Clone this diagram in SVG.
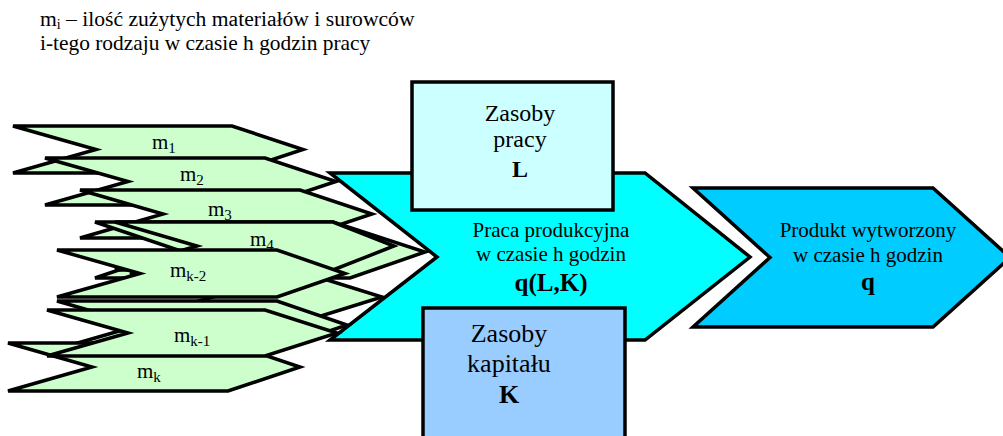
<svg xmlns="http://www.w3.org/2000/svg" width="1003" height="436" viewBox="0 0 1003 436" font-family="'Liberation Serif', 'Times New Roman', 'DejaVu Serif', serif">
<style>
  .sh { stroke:#000; stroke-width:3.5; stroke-linejoin:miter; }
  .g { fill:#CCFFCC; }
  text { font-family:'Liberation Serif', 'Times New Roman', 'DejaVu Serif', serif; fill:#000; }
  .lab { font-size:21px; }
  .sub { font-size:15px; }
  .b { font-weight:bold; }
</style>
<rect x="0" y="0" width="1003" height="436" fill="#FFFFFF"/>

<g id="caption">
  <text x="40" y="26" font-size="21.6">m<tspan font-size="14" dy="3">i</tspan><tspan dy="-3"> – ilość zużytych materiałów i surowców</tspan></text>
  <text x="40" y="50" font-size="21.4">i-tego rodzaju w czasie h godzin pracy</text>
</g>

<g id="praca">
  <polygon class="sh" fill="#00FFFF" points="330,173 645,173 750,257 645,340 330,340 437,257"/>
</g>

<g id="materials">
  <g id="m1">
    <polygon class="sh g" points="13,126 232,126 303,149.5 232,173 13,173 96,149.5"/>
    <text class="lab" x="152" y="149">m<tspan class="sub" dy="4">1</tspan></text>
  </g>
  <g id="m2">
    <polygon class="sh g" points="45,158 265,158 336,181.5 265,205 45,205 128,181.5"/>
    <text class="lab" x="180" y="181">m<tspan class="sub" dy="4">2</tspan></text>
  </g>
  <g id="m3">
    <polygon class="sh g" points="80,190 300,190 372,214 300,238 80,238 163,214"/>
    <text class="lab" x="208" y="216">m<tspan class="sub" dy="4">3</tspan></text>
  </g>
  <g id="m_hidden1">
    <polygon class="sh g" points="95,222 333,222 425,252 350,278 95,278 178,250"/>
  </g>
  <g id="m4">
    <polygon class="sh g" points="115,222 333,222 394,246 333,270 115,270 197,246"/>
    <text class="lab" x="250" y="246">m<tspan class="sub" dy="4">4</tspan></text>
  </g>
  <g id="m_hidden2">
    <polygon class="sh g" points="130,273 305,273 382,297 305,321 130,321 213,297"/>
  </g>
  <g id="mk-2">
    <polygon class="sh g" points="57,250 277,250 345,273.5 277,297 57,297 140,273.5"/>
    <text class="lab" x="170" y="277">m<tspan class="sub" dy="4">k-2</tspan></text>
  </g>
  <g id="m_hidden3">
    <polygon class="sh g" points="57,301 277,301 347,325 277,349 57,349 140,325"/>
  </g>
  <g id="mk">
    <polygon class="sh g" points="8,343 228,343 300,367 228,391 8,391 92,367"/>
    <text class="lab" x="137" y="378">m<tspan class="sub" dy="4">k</tspan></text>
  </g>
  <g id="mk-1">
    <polygon class="sh g" points="47,310 265,310 337,333 265,356 47,356 128,333"/>
    <text class="lab" x="174" y="342">m<tspan class="sub" dy="4">k-1</tspan></text>
  </g>
</g>

<g id="praca-label">
  <text font-size="21" x="551" y="237" text-anchor="middle">Praca produkcyjna</text>
  <text font-size="21" x="551" y="261" text-anchor="middle">w czasie h godzin</text>
  <text class="b" font-size="25" x="551" y="291" text-anchor="middle">q(L,K)</text>
</g>

<g id="zasoby-pracy">
  <rect class="sh" fill="#CCFFFF" x="412" y="82" width="201" height="128"/>
  <text font-size="24" x="520" y="121" text-anchor="middle">Zasoby</text>
  <text font-size="24" x="520" y="147" text-anchor="middle">pracy</text>
  <text class="b" font-size="24" x="520" y="177" text-anchor="middle">L</text>
</g>

<g id="zasoby-kapitalu">
  <rect class="sh" fill="#99CCFF" x="423" y="308" width="202" height="140"/>
  <text font-size="26" x="509" y="342" text-anchor="middle">Zasoby</text>
  <text font-size="26" x="509" y="372" text-anchor="middle">kapitału</text>
  <text class="b" font-size="26" x="509" y="403" text-anchor="middle">K</text>
</g>

<g id="produkt">
  <polygon class="sh" fill="#00CCFF" points="693,188 933,188 1010,257.5 933,327 693,327 770,257.5"/>
  <text font-size="21" x="868" y="237" text-anchor="middle">Produkt wytworzony</text>
  <text font-size="21" x="868" y="262" text-anchor="middle">w czasie h godzin</text>
  <text class="b" font-size="25" x="868" y="290" text-anchor="middle">q</text>
</g>

<g id="connectors"></g>
</svg>
